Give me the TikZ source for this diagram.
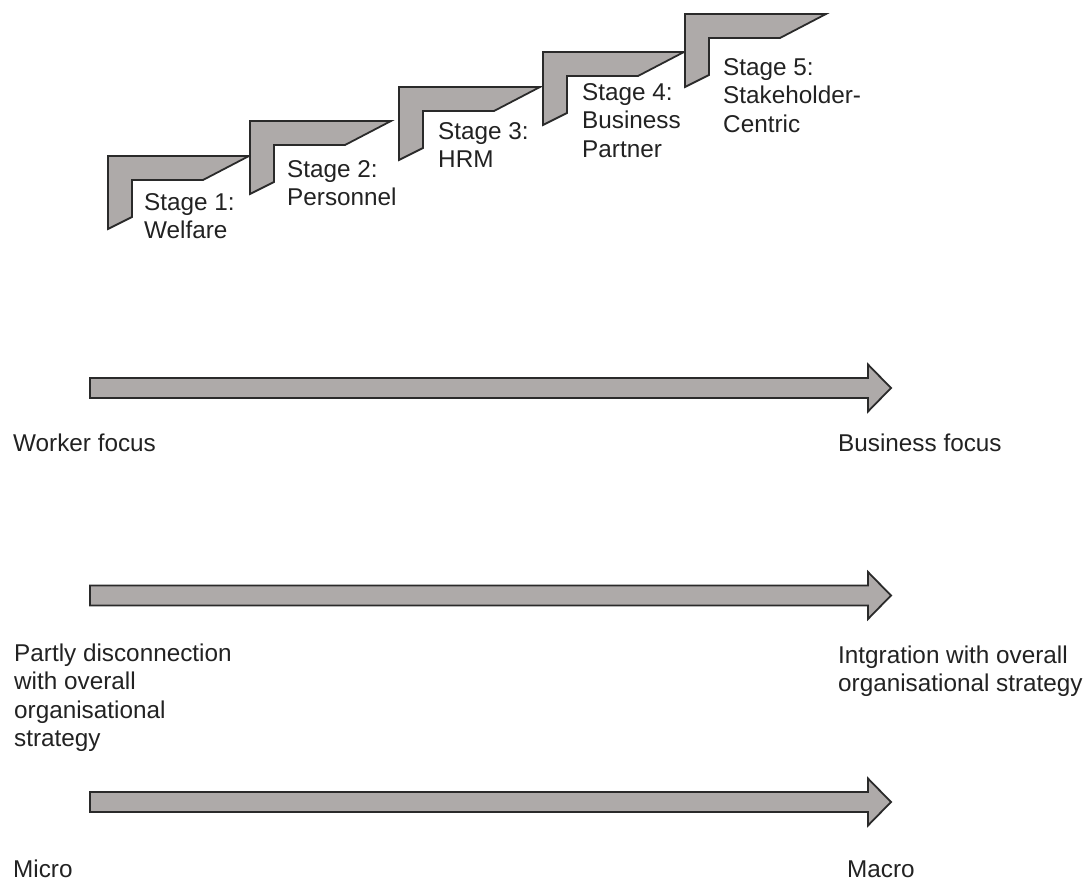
\documentclass[tikz,border=0pt]{standalone}
\usepackage{fontspec}
\setmainfont{Liberation Sans}
\usepackage{tikz}
\definecolor{stepgray}{HTML}{AEAAA9}
\definecolor{edgegray}{HTML}{2A2A2A}
\definecolor{txtgray}{HTML}{222222}

\begin{document}
\begin{tikzpicture}[x=1pt,y=-1pt,line join=miter,
                    shapefill/.style={fill=stepgray,draw=edgegray,line width=1.8pt},
                    lbl/.style={anchor=base west,inner sep=0pt,align=left,text=txtgray,
                                font=\fontsize{24.3}{28.6}\selectfont},
                    stair/.pic={\filldraw[shapefill] (0,0) -- (141,0) -- (95,24) -- (24,24)
                                -- (24,61) -- (0,73) -- cycle;},
                    bararrow/.pic={\filldraw[shapefill] (0,-10) -- (778,-10) -- (778,-23.5)
                                -- (801,0) -- (778,23.5) -- (778,10) -- (0,10) -- cycle;}]
  \useasboundingbox (0,0) rectangle (1087,881);

  % the five stages
  \pic at (108,156) {stair};
  \pic at (250,121) {stair};
  \pic at (399,87) {stair};
  \pic at (543,52) {stair};
  \pic at (685,14) {stair};

  % labels sit on the baseline of their last line
  \node[lbl] (st1) at (144,238.6) {Stage 1:\\Welfare};
  \node[lbl] (st2) at (287,205.6) {Stage 2:\\Personnel};
  \node[lbl] (st3) at (438,167.6) {Stage 3:\\HRM};
  \node[lbl] (st4) at (582,157.2) {Stage 4:\\Business\\Partner};
  \node[lbl] (st5) at (723,132.2) {Stage 5:\\Stakeholder-\\Centric};

  % the three scales
  \pic at (90,388) {bararrow};
  \pic at (90,595.5) {bararrow};
  \pic at (90,802) {bararrow};

  \node[lbl] (worker) at (13,451) {Worker focus};
  \node[lbl] (business) at (838,451) {Business focus};
  \node[lbl] (partly) at (14,746.8) {Partly disconnection\\with overall\\organisational\\strategy};
  \node[lbl] (integ) at (838,691.6) {Intgration with overall\\organisational strategy};
  \node[lbl] (micro) at (13,877) {Micro};
  \node[lbl] (macro) at (847,877) {Macro};
\end{tikzpicture}
\end{document}
